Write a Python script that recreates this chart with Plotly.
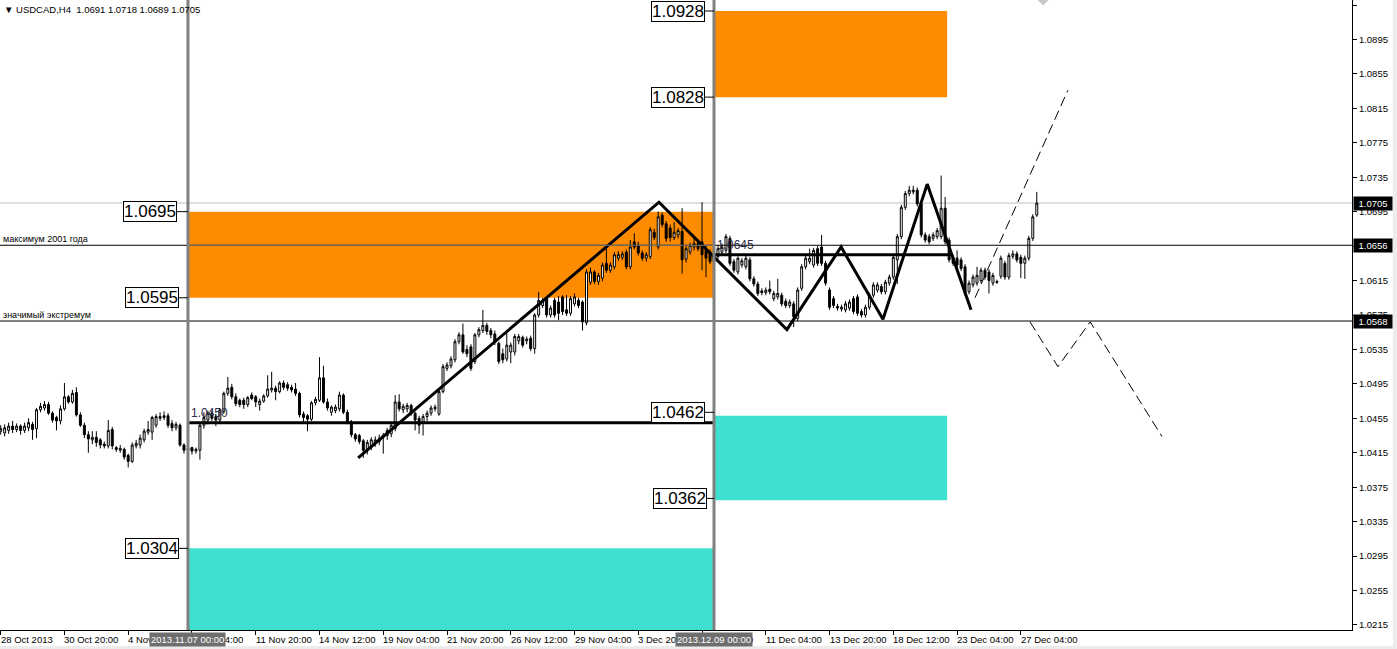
import plotly.graph_objects as go

# ---------------- data ----------------
title_text = "\u25bc USDCAD,H4  1.0691 1.0718 1.0689 1.0705"

# H4 candles, values in pips (price * 10000)
opens = [
    10440, 10438, 10441, 10446, 10442, 10446, 10441, 10444, 10448, 10443,
    10465, 10467, 10471, 10461, 10456, 10452, 10466, 10480, 10474, 10485,
    10459, 10447, 10436, 10430, 10433, 10430, 10425, 10423, 10442, 10421,
    10418, 10419, 10412, 10405, 10423, 10424, 10430, 10439, 10439, 10447,
    10455, 10456, 10458, 10449, 10444, 10447, 10424, 10420, 10421, 10417,
    10418, 10447, 10453, 10461, 10457, 10453, 10463, 10484, 10491, 10480,
    10476, 10476, 10471, 10482, 10480, 10471, 10475, 10481, 10488, 10490,
    10486, 10496, 10494, 10491, 10489, 10484, 10460, 10458, 10454, 10473,
    10476, 10502, 10474, 10462, 10464, 10466, 10482, 10462, 10451, 10436,
    10435, 10429, 10418, 10422, 10426, 10428, 10433, 10435, 10437, 10443,
    10474, 10465, 10466, 10470, 10461, 10455, 10450, 10457, 10461, 10466,
    10460, 10486, 10513, 10516, 10523, 10544, 10552, 10535, 10538, 10521,
    10552, 10557, 10563, 10557, 10553, 10542, 10530, 10524, 10532, 10532,
    10545, 10549, 10545, 10548, 10536, 10575, 10586, 10594, 10575, 10592,
    10590, 10596, 10581, 10577, 10588, 10592, 10590, 10566, 10613, 10625,
    10614, 10618, 10635, 10627, 10631, 10641, 10642, 10648, 10631, 10660,
    10656, 10647, 10641, 10643, 10671, 10654, 10691, 10681, 10676, 10665,
    10668, 10672, 10640, 10648, 10654, 10658, 10660, 10650, 10648, 10637,
    10643, 10648, 10650, 10664, 10637, 10625, 10633, 10631, 10639, 10617,
    10611, 10603, 10601, 10605, 10594, 10596, 10598, 10591, 10586, 10588,
    10571, 10606, 10631, 10637, 10633, 10652, 10654, 10635, 10604, 10594,
    10585, 10582, 10581, 10583, 10594, 10596, 10579, 10575, 10584, 10598,
    10604, 10608, 10602, 10612, 10619, 10639, 10666, 10700, 10716, 10718,
    10720, 10704, 10668, 10666, 10664, 10666, 10666, 10699, 10662, 10642,
    10641, 10639, 10631, 10602, 10610, 10612, 10615, 10627, 10625, 10612,
    10614, 10620, 10635, 10619, 10643, 10646, 10642, 10635, 10641, 10664,
    10691,
]
highs = [
    10447, 10448, 10450, 10452, 10449, 10448, 10450, 10455, 10451, 10467,
    10473, 10475, 10474, 10463, 10458, 10470, 10496, 10482, 10488, 10491,
    10462, 10450, 10440, 10440, 10440, 10432, 10428, 10453, 10445, 10423,
    10424, 10421, 10414, 10427, 10430, 10436, 10443, 10452, 10458, 10460,
    10462, 10463, 10461, 10453, 10451, 10449, 10426, 10424, 10422, 10421,
    10449, 10462, 10464, 10464, 10460, 10467, 10486, 10503, 10495, 10484,
    10478, 10479, 10481, 10485, 10482, 10478, 10483, 10505, 10509, 10493,
    10498, 10499, 10497, 10494, 10496, 10486, 10463, 10460, 10475, 10480,
    10526, 10516, 10478, 10470, 10471, 10486, 10484, 10465, 10453, 10438,
    10437, 10431, 10430, 10433, 10434, 10436, 10438, 10444, 10450, 10482,
    10483, 10472, 10473, 10472, 10463, 10458, 10460, 10464, 10470, 10471,
    10488, 10518, 10520, 10527, 10547, 10555, 10565, 10540, 10541, 10554,
    10561, 10581, 10566, 10560, 10557, 10544, 10536, 10554, 10543, 10553,
    10553, 10551, 10550, 10551, 10577, 10602, 10595, 10597, 10586, 10595,
    10597, 10598, 10598, 10597, 10600, 10595, 10592, 10628, 10630, 10627,
    10624, 10636, 10652, 10636, 10648, 10649, 10649, 10651, 10662, 10670,
    10660, 10650, 10648, 10677, 10675, 10695, 10694, 10684, 10680, 10683,
    10676, 10699, 10655, 10659, 10664, 10661, 10706, 10656, 10651, 10650,
    10656, 10658, 10669, 10667, 10640, 10643, 10641, 10644, 10642, 10620,
    10614, 10606, 10607, 10615, 10603, 10617, 10601, 10594, 10593, 10591,
    10607, 10634, 10644, 10652, 10653, 10655, 10668, 10638, 10607, 10597,
    10588, 10587, 10591, 10593, 10597, 10599, 10582, 10587, 10601, 10613,
    10613, 10611, 10616, 10622, 10645, 10669, 10703, 10719, 10725, 10725,
    10723, 10707, 10671, 10669, 10671, 10676, 10737, 10712, 10665, 10645,
    10650, 10642, 10634, 10615, 10622, 10631, 10630, 10630, 10628, 10624,
    10616, 10644, 10638, 10647, 10650, 10649, 10645, 10644, 10667, 10692,
    10718,
]
lows = [
    10436, 10434, 10437, 10438, 10439, 10436, 10438, 10440, 10430, 10432,
    10462, 10464, 10459, 10450, 10441, 10448, 10464, 10472, 10472, 10457,
    10445, 10432, 10415, 10425, 10422, 10420, 10420, 10420, 10419, 10416,
    10415, 10407, 10398, 10403, 10420, 10420, 10427, 10436, 10430, 10444,
    10452, 10453, 10444, 10440, 10441, 10422, 10414, 10414, 10413, 10414,
    10407, 10443, 10448, 10452, 10446, 10450, 10460, 10481, 10477, 10469,
    10468, 10466, 10468, 10476, 10468, 10464, 10473, 10479, 10485, 10476,
    10484, 10488, 10487, 10485, 10481, 10456, 10450, 10440, 10452, 10470,
    10474, 10472, 10464, 10458, 10461, 10463, 10460, 10448, 10433, 10428,
    10425, 10409, 10413, 10418, 10422, 10424, 10414, 10430, 10433, 10440,
    10463, 10461, 10462, 10458, 10441, 10437, 10435, 10452, 10458, 10463,
    10458, 10484, 10510, 10513, 10520, 10541, 10530, 10526, 10510, 10518,
    10549, 10554, 10552, 10548, 10540, 10518, 10519, 10521, 10519, 10528,
    10541, 10537, 10541, 10533, 10530, 10572, 10583, 10572, 10572, 10572,
    10569, 10575, 10574, 10574, 10585, 10583, 10557, 10563, 10610, 10611,
    10610, 10614, 10624, 10624, 10628, 10638, 10639, 10628, 10628, 10651,
    10644, 10638, 10637, 10640, 10662, 10651, 10677, 10660, 10660, 10662,
    10664, 10623, 10636, 10645, 10650, 10649, 10627, 10619, 10634, 10633,
    10640, 10645, 10647, 10632, 10624, 10622, 10630, 10628, 10614, 10608,
    10597, 10598, 10598, 10599, 10591, 10593, 10585, 10583, 10583, 10561,
    10568, 10603, 10628, 10634, 10630, 10632, 10632, 10609, 10581, 10583,
    10580, 10579, 10578, 10580, 10576, 10574, 10572, 10572, 10581, 10595,
    10601, 10599, 10599, 10609, 10616, 10611, 10663, 10697, 10713, 10715,
    10701, 10665, 10659, 10657, 10661, 10663, 10663, 10657, 10636, 10632,
    10630, 10626, 10597, 10599, 10607, 10609, 10612, 10616, 10600, 10609,
    10611, 10617, 10616, 10616, 10640, 10636, 10618, 10617, 10638, 10661,
    10689,
]
closes = [
    10443, 10444, 10446, 10442, 10446, 10441, 10446, 10450, 10442, 10465,
    10469, 10471, 10461, 10453, 10452, 10466, 10480, 10474, 10484, 10459,
    10447, 10436, 10431, 10433, 10427, 10424, 10423, 10441, 10423, 10419,
    10420, 10410, 10405, 10424, 10426, 10432, 10440, 10442, 10456, 10457,
    10457, 10458, 10447, 10444, 10448, 10424, 10418, 10418, 10417, 10419,
    10447, 10456, 10461, 10455, 10453, 10465, 10484, 10490, 10480, 10472,
    10471, 10471, 10479, 10478, 10474, 10475, 10481, 10489, 10490, 10486,
    10496, 10491, 10490, 10488, 10484, 10459, 10456, 10454, 10473, 10477,
    10502, 10474, 10467, 10468, 10468, 10482, 10462, 10451, 10436, 10431,
    10428, 10418, 10427, 10430, 10430, 10432, 10435, 10441, 10447, 10474,
    10466, 10469, 10470, 10461, 10453, 10447, 10457, 10461, 10467, 10468,
    10486, 10515, 10517, 10524, 10544, 10552, 10532, 10530, 10513, 10552,
    10558, 10563, 10556, 10552, 10544, 10521, 10523, 10540, 10540, 10550,
    10550, 10540, 10547, 10536, 10575, 10592, 10592, 10575, 10583, 10575,
    10577, 10579, 10577, 10594, 10596, 10586, 10567, 10625, 10625, 10614,
    10621, 10633, 10627, 10633, 10645, 10645, 10646, 10631, 10654, 10654,
    10647, 10641, 10645, 10674, 10665, 10689, 10680, 10664, 10665, 10671,
    10673, 10639, 10652, 10656, 10658, 10652, 10645, 10641, 10637, 10645,
    10652, 10654, 10666, 10635, 10627, 10641, 10638, 10641, 10617, 10611,
    10600, 10601, 10604, 10602, 10600, 10600, 10588, 10586, 10590, 10573,
    10604, 10631, 10641, 10641, 10650, 10635, 10635, 10612, 10584, 10586,
    10583, 10584, 10588, 10590, 10579, 10577, 10575, 10584, 10598, 10610,
    10610, 10602, 10613, 10619, 10642, 10666, 10700, 10716, 10720, 10720,
    10704, 10668, 10662, 10660, 10668, 10673, 10699, 10660, 10639, 10635,
    10633, 10629, 10600, 10612, 10619, 10621, 10627, 10619, 10615, 10621,
    10613, 10641, 10619, 10644, 10646, 10639, 10635, 10641, 10664, 10689,
    10705,
]
assert len(opens) == len(highs) == len(lows) == len(closes) == 261

bar_index = list(range(1, len(opens) + 1))

date_tick_idx = [1, 17, 33, 49, 65, 81, 97, 113, 129, 145, 161, 177, 193, 209, 225, 241, 257]
date_tick_txt = ["28 Oct 2013", "30 Oct 20:00", "4 Nov 12:00", "7 Nov 04:00", "11 Nov 20:00",
                 "14 Nov 12:00", "19 Nov 04:00", "21 Nov 20:00", "26 Nov 12:00", "29 Nov 04:00",
                 "3 Dec 20:00", "6 Dec 12:00", "11 Dec 04:00", "13 Dec 20:00", "18 Dec 12:00",
                 "23 Dec 04:00", "27 Dec 04:00"]

price_ticks = [1.0935, 1.0895, 1.0855, 1.0815, 1.0775, 1.0735, 1.0695, 1.0655, 1.0615, 1.0575,
               1.0535, 1.0495, 1.0455, 1.0415, 1.0375, 1.0335, 1.0295, 1.0255, 1.0215]

# vertical time markers
vline_idx = [48, 180]
vline_txt = ["2013.11.07 00:00", "2013.12.09 00:00"]

# zones
zone_x0 = [48, 180, 180, 48]
zone_x1 = [180, 238.5, 238.5, 180]
zone_lo = [1.0595, 1.0828, 1.0360, 1.0190]
zone_hi = [1.0695, 1.0928, 1.0458, 1.0304]
zone_kind = ["sell", "sell", "buy", "buy"]

# price labels attached to markers
plabel_anchor = [48, 48, 48, 180, 180, 180, 180]
plabel_price = [1.0695, 1.0595, 1.0304, 1.0928, 1.0828, 1.0462, 1.0362]
plabel_gap = [11, 9, 9, 9, 9, 9, 7]

# horizontal levels
level_full = [1.0656, 1.0568]
level_full_txt = ["максимум 2001 года", "значимый экстремум"]
bid_price = 1.0705
thick_level_price = [1.0450, 1.0645]
thick_level_x0 = [48, 180]
thick_level_x1 = [180, 239.5]
thick_level_txt = ["1.0450", "1.0645"]

# zigzag and projections
zz_x = [90.7, 166.2, 198.3, 211.9, 222.4, 233.5, 244.5]
zz_y = [1.0409, 1.0706, 1.0558, 1.0654, 1.0570, 1.0727, 1.0581]
proj1_x = [245.5, 268.8]
proj1_y = [1.0595, 1.0836]
proj2_x = [259.3, 266.3, 274.4, 292.4]
proj2_y = [1.0567, 1.0515, 1.0567, 1.0434]

axis_boxes = [1.0705, 1.0656, 1.0568]

# ---------------- figure ----------------
FONT = "Liberation Sans, Arial, sans-serif"
PX_PER_BAR = 3.985
fig = go.Figure()

fig.add_trace(go.Candlestick(
    x=bar_index,
    open=[v / 10000 for v in opens],
    high=[v / 10000 for v in highs],
    low=[v / 10000 for v in lows],
    close=[v / 10000 for v in closes],
    increasing=dict(line=dict(color="black", width=1), fillcolor="white"),
    decreasing=dict(line=dict(color="black", width=1), fillcolor="black"),
    whiskerwidth=0,
    hoverinfo="skip",
    showlegend=False,
))

fig.add_trace(go.Scatter(x=zz_x, y=zz_y, mode="lines",
                         line=dict(color="black", width=3), hoverinfo="skip", showlegend=False))
fig.add_trace(go.Scatter(x=proj1_x, y=proj1_y, mode="lines",
                         line=dict(color="black", width=1, dash="10px,5px"), hoverinfo="skip", showlegend=False))
fig.add_trace(go.Scatter(x=proj2_x, y=proj2_y, mode="lines",
                         line=dict(color="black", width=1, dash="10px,5px"), hoverinfo="skip", showlegend=False))
fig.add_trace(go.Scatter(x=[262.6], y=[1.09435], mode="markers",
                         marker=dict(symbol="diamond", size=12, color="#c8c8c8"),
                         hoverinfo="skip", showlegend=False))

shapes = []
zone_col = {"sell": "#FF8C00", "buy": "#40E0D0"}
for x0, x1, lo, hi, k in zip(zone_x0, zone_x1, zone_lo, zone_hi, zone_kind):
    shapes.append(dict(type="rect", xref="x", yref="y", x0=x0, x1=x1, y0=lo, y1=hi,
                       fillcolor=zone_col[k], line=dict(width=0), layer="below"))

shapes.append(dict(type="line", xref="paper", yref="y", x0=0, x1=1, y0=bid_price, y1=bid_price,
                   line=dict(color="#c0c0c0", width=1), layer="below"))
for p in level_full:
    shapes.append(dict(type="line", xref="paper", yref="y", x0=0, x1=1, y0=p, y1=p,
                       line=dict(color="black", width=1), layer="above"))
shapes.append(dict(type="line", xref="x", yref="y", x0=zone_x0[0], x1=zone_x1[0],
                   y0=level_full[0], y1=level_full[0], line=dict(color="#808080", width=1), layer="above"))
for p, a, b in zip(thick_level_price, thick_level_x0, thick_level_x1):
    shapes.append(dict(type="line", xref="x", yref="y", x0=a, x1=b, y0=p, y1=p,
                       line=dict(color="black", width=3), layer="above"))
for v in vline_idx:
    shapes.append(dict(type="line", xref="x", yref="paper", x0=v, x1=v, y0=0, y1=1,
                       line=dict(color="#808080", width=3), layer="above"))
for a, p, g in zip(plabel_anchor, plabel_price, plabel_gap):
    shapes.append(dict(type="line", xref="x", yref="y", x0=a - g / PX_PER_BAR, x1=a, y0=p, y1=p,
                       line=dict(color="black", width=1), layer="above"))
shapes.append(dict(type="rect", xref="paper", yref="paper", x0=1393 / 1352, x1=1.05, y0=-0.05, y1=1.0,
                   fillcolor="#ececec", line=dict(width=0), layer="above"))
shapes.append(dict(type="rect", xref="paper", yref="paper", x0=-0.01, x1=1.05, y0=-0.05, y1=-16 / 630,
                   fillcolor="#ececec", line=dict(width=0), layer="above"))

ann = []
ann.append(dict(text=title_text, xref="paper", yref="paper", x=0, y=1, xanchor="left", yanchor="top",
                xshift=2, yshift=-2, showarrow=False, font=dict(family=FONT, size=9.5, color="black")))
for p, t in zip(level_full, level_full_txt):
    ann.append(dict(text=t, xref="paper", yref="y", x=0, y=p, xanchor="left", yanchor="bottom",
                    xshift=1, yshift=-1, showarrow=False, font=dict(family=FONT, size=9, color="black")))
for p, a, t in zip(thick_level_price, thick_level_x0, thick_level_txt):
    ann.append(dict(text=t, xref="x", yref="y", x=a, y=p, xanchor="left", yanchor="bottom",
                    xshift=1, yshift=1, showarrow=False, font=dict(family=FONT, size=12, color="#2b2b45")))
for a, p, g in zip(plabel_anchor, plabel_price, plabel_gap):
    ann.append(dict(text=f"{p:.4f}", xref="x", yref="y", x=a, y=p, xanchor="right", yanchor="middle",
                    xshift=-g, showarrow=False, bgcolor="white", bordercolor="black", borderwidth=1,
                    borderpad=0, font=dict(family=FONT, size=17, color="black")))
for i, t in zip(date_tick_idx, date_tick_txt):
    ann.append(dict(text=t, xref="x", yref="paper", x=i, y=0, xanchor="left", yanchor="top",
                    xshift=-2, yshift=-2, showarrow=False, font=dict(family=FONT, size=9.5, color="black")))
for v, t in zip(vline_idx, vline_txt):
    ann.append(dict(text=t, xref="x", yref="paper", x=v, y=0, xanchor="center", yanchor="top",
                    yshift=-2, showarrow=False, bgcolor="#6e6e6e", borderpad=1,
                    font=dict(family=FONT, size=9.5, color="white")))
for p in axis_boxes:
    ann.append(dict(text=f"{p:.4f}", xref="paper", yref="y", x=1, y=p, xanchor="left", yanchor="middle",
                    xshift=1, showarrow=False, bgcolor="black", borderpad=1, width=36,
                    font=dict(family=FONT, size=9.5, color="white")))

fig.update_layout(
    width=1397, height=649,
    margin=dict(l=0, r=45, t=0, b=19, pad=0),
    paper_bgcolor="white", plot_bgcolor="white",
    showlegend=False,
    shapes=shapes, annotations=ann,
    font=dict(family=FONT, size=10, color="black"),
    xaxis=dict(range=[0.83, 340.1], rangeslider=dict(visible=False), showgrid=False, zeroline=False,
               tickvals=date_tick_idx, ticktext=["" for _ in date_tick_idx], ticks="outside",
               ticklen=4, tickcolor="black", showline=True, linecolor="black", linewidth=1,
               fixedrange=True),
    yaxis=dict(range=[1.020918, 1.094081], side="right", showgrid=False, zeroline=False,
               tickvals=price_ticks, ticktext=[f"{p:.4f}" for p in price_ticks], ticks="outside",
               ticklen=4, tickcolor="black", showline=True, linecolor="black", linewidth=1,
               tickfont=dict(family=FONT, size=9.5, color="black"), fixedrange=True),
)

fig.write_html("out.html", config={"displayModeBar": False},
               post_script="document.body.style.margin='0px';document.body.style.overflow='hidden';")
